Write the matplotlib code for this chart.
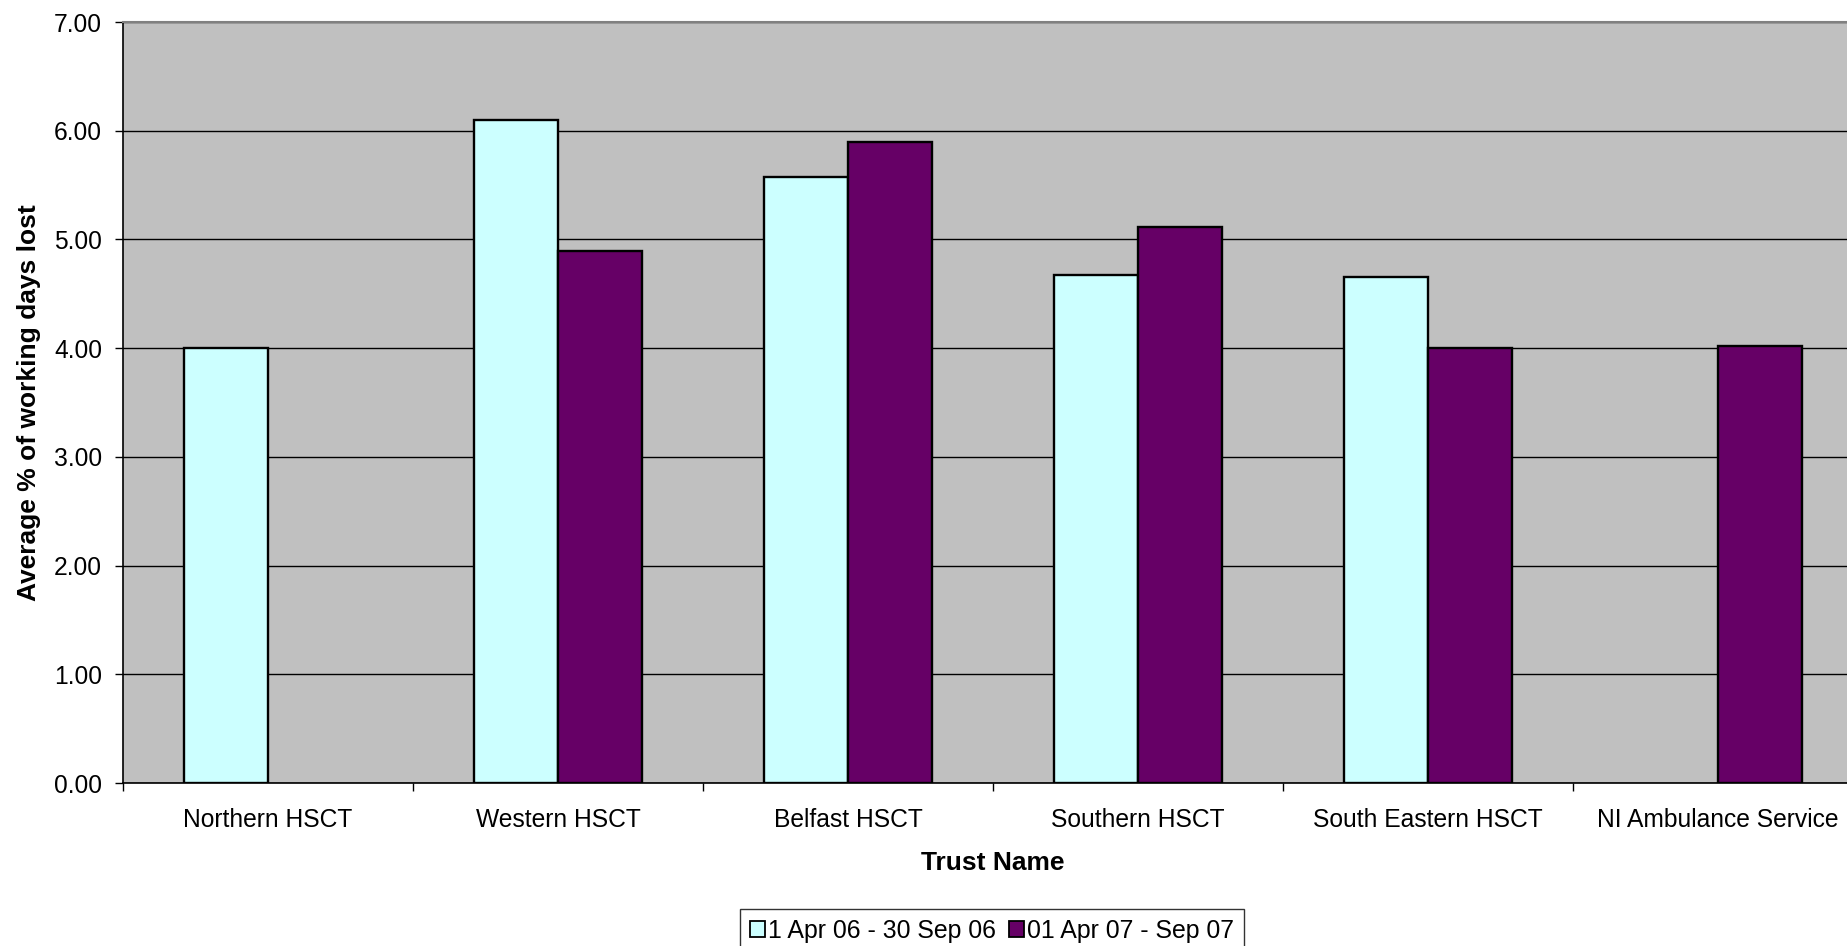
import numpy as np
import matplotlib
matplotlib.use("Agg")
import matplotlib.pyplot as plt

plt.rcParams['font.family'] = ['Liberation Sans', 'DejaVu Sans']

# Data
trusts = ['Northern HSCT', 'Western HSCT', 'Belfast HSCT', 'Southern HSCT',
          'South Eastern HSCT', 'NI Ambulance Service']
period_06 = [4.00, 6.10, 5.57, 4.67, 4.65, np.nan]
period_07 = [np.nan, 4.89, 5.90, 5.11, 4.00, 4.02]
series_labels = ['1 Apr 06 - 30 Sep 06', '01 Apr 07 - Sep 07']
yticks = [0, 1, 2, 3, 4, 5, 6, 7]

fig = plt.figure(figsize=(18.47, 9.46), dpi=100)
# plot area runs past the right edge of the image, as in the original
ax = fig.add_axes([123 / 1847, 1 - 783 / 946, 1740 / 1847, 761 / 946])
ax.set_facecolor('#C0C0C0')

x = np.arange(len(trusts))
w = 0.288
v06 = np.array(period_06)
v07 = np.array(period_07)
m06 = ~np.isnan(v06)
m07 = ~np.isnan(v07)
ax.bar(x[m06] - w / 2, v06[m06], width=w, color='#CCFFFF', edgecolor='black',
       linewidth=1.7, label=series_labels[0], zorder=3)
ax.bar(x[m07] + w / 2, v07[m07], width=w, color='#660066', edgecolor='black',
       linewidth=1.7, label=series_labels[1], zorder=3)

ax.set_xlim(-0.5, len(trusts) - 0.5)
ax.set_ylim(0, 7)
ax.set_yticks(yticks)
ax.set_yticklabels([f'{v:.2f}' for v in yticks])
ax.set_xticks(x)
ax.set_xticklabels(trusts)
ax.set_xticks(np.arange(len(trusts) + 1) - 0.5, minor=True)

ax.tick_params(axis='x', which='major', length=0, pad=18, labelsize=17.7)
ax.tick_params(axis='x', which='minor', length=6, width=1, direction='out', color='black')
ax.tick_params(axis='y', length=6, width=1, pad=9, labelsize=17.7, direction='out')

ax.yaxis.grid(True, color='black', linewidth=1)
ax.set_axisbelow(True)
for s in ['left', 'bottom']:
    ax.spines[s].set_color('black')
    ax.spines[s].set_linewidth(1.2)
ax.spines['top'].set_color('#808080')
ax.spines['top'].set_linewidth(1.5)
ax.spines['right'].set_visible(False)

ax.set_xlabel('Trust Name', fontsize=19, fontweight='bold')
ax.xaxis.set_label_coords(0.5, -0.09)
ax.set_ylabel('Average % of working days lost', fontsize=19, fontweight='bold')
ax.yaxis.set_label_coords(-0.047, 0.5)

leg = fig.legend(loc='upper center', bbox_to_anchor=(992 / 1847, 1 - 909 / 946),
                 ncol=2, fontsize=17.9, frameon=True, fancybox=False,
                 handlelength=0.6, handleheight=0.6, handletextpad=0.12,
                 columnspacing=0.55, borderpad=0.4, borderaxespad=0)
leg.get_frame().set_edgecolor('black')
leg.get_frame().set_linewidth(1)
for h in leg.legend_handles:
    h.set_linewidth(1.3)

fig.savefig('out.png', dpi=100)
